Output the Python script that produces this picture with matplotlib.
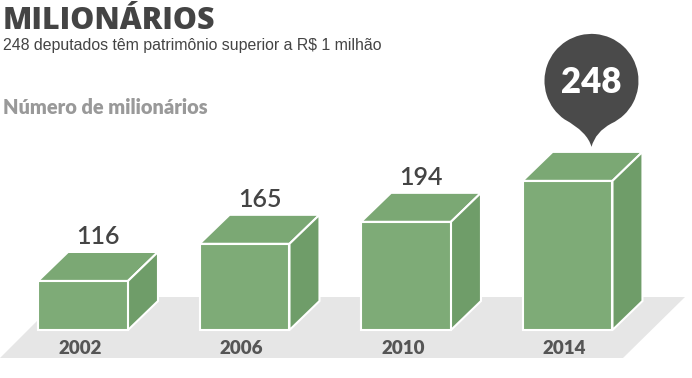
"""
Milionários na Câmara: caixas em pseudo-3D.
"""
import matplotlib
matplotlib.use('agg')
import matplotlib.pyplot as plt
import numpy as np
from matplotlib.patches import Polygon, PathPatch
from matplotlib.path import Path
from matplotlib import transforms

years = ['2002', '2006', '2010', '2014']
values = [116, 165, 194, 248]

W, H = 692, 378
BASE = 51.3          # valor no "chão" das caixas (escala truncada)
DEPTH = (30, 29)     # profundidade das caixas em pixels
FRONT = '#7eab77'
TOP = '#7ba874'
SIDE = '#6f9d69'
FLOOR = '#e6e6e6'
DARK = '#4a4a4a'

fig = plt.figure(figsize=(W / 100, H / 100), dpi=100)
ax = fig.add_axes([0, 0, 1, 1])
ax.set_xlim(-0.514, 3.771)
ax.set_ylim(-12.0, 486.6)
ax.axis('off')

# pixel coords (origin top-left) -> display
pix = transforms.Affine2D().scale(1, -1).translate(0, H)

# floor
ax.add_patch(Polygon([(61, 297), (685, 297), (623, 358), (0, 358)],
                     closed=True, facecolor=FLOOR, edgecolor='none',
                     transform=pix, zorder=0))

x = np.arange(len(values))
bars = ax.bar(x, np.array(values) - BASE, bottom=BASE, width=0.557,
              color=FRONT, edgecolor='white', linewidth=1.5, zorder=3)

dx, dy = DEPTH
ident = transforms.IdentityTransform()
for bar in bars:
    (x0, y0), (x1, y1) = ax.transData.transform(
        [(bar.get_x(), bar.get_y()),
         (bar.get_x() + bar.get_width(), bar.get_y() + bar.get_height())])
    top = [(x0, y1), (x1, y1), (x1 + dx, y1 + dy), (x0 + dx, y1 + dy)]
    side = [(x1, y0), (x1, y1), (x1 + dx, y1 + dy), (x1 + dx, y0 + dy)]
    ax.add_patch(Polygon(top, closed=True, facecolor=TOP, edgecolor='white',
                         linewidth=1.5, transform=ident, zorder=2))
    ax.add_patch(Polygon(side, closed=True, facecolor=SIDE, edgecolor='white',
                         linewidth=1.5, transform=ident, zorder=2))

# year labels
year_tr = transforms.blended_transform_factory(ax.transData, pix)
for xi, yr in zip(x, years):
    ax.text(xi - 0.02, 349, yr, transform=year_tr, ha='center', va='center',
            fontsize=13.5, fontweight='heavy', color='#555555', family='Lato')

# value labels (the last one sits in the pin)
val_tr = transforms.offset_copy(ax.transData, fig=fig, x=15, y=37, units='dots')
for xi, v in zip(x[:-1], values[:-1]):
    ax.text(xi, v, str(v), transform=val_tr, ha='center', va='baseline',
            fontsize=18, fontweight='semibold', color='#444444', family='Lato')

# pin over the last box
tipx, tipy = ax.transData.transform((x[-1], values[-1]))
tipx, tipy = tipx + 24, tipy + 34
r, cy = 47, 66
a1 = np.radians(-65)
pr = (r * np.cos(a1), cy + r * np.sin(a1))
arc = Path.arc(-65, 235)
arc_verts = arc.vertices * r + np.array([0, cy])
verts = [(0, 0), (4, 15), pr] + list(arc_verts[1:]) + [(-4, 15), (0, 0), (0, 0)]
codes = ([Path.MOVETO, Path.CURVE3, Path.CURVE3] + list(arc.codes[1:])
         + [Path.CURVE3, Path.CURVE3, Path.CLOSEPOLY])
pin = Path(verts, codes)
pin_tr = transforms.Affine2D().translate(tipx, tipy)
ax.add_patch(PathPatch(pin, facecolor=DARK, edgecolor='none',
                       transform=pin_tr, zorder=5))
ax.text(tipx, tipy + cy - 2, str(values[-1]), transform=ident,
        ha='center', va='center', fontsize=25, fontweight='heavy',
        color='white', family='Lato', zorder=6)

# titles
fig.text(3 / W, 1 - 29 / H, 'MILIONÁRIOS', ha='left', va='baseline',
         fontsize=21.8, fontweight=800, color='#444444', family='Open Sans')
fig.text(3 / W, 1 - 50 / H, '248 deputados têm patrimônio superior a R$ 1 milhão',
         ha='left', va='baseline', fontsize=11.45, color='#444444',
         family='Liberation Sans')
fig.text(3 / W, 1 - 114 / H, 'Número de milionários', ha='left', va='baseline',
         fontsize=14.4, fontweight='heavy', color='#999999', family='Lato')

fig.savefig('out.png', dpi=100)
